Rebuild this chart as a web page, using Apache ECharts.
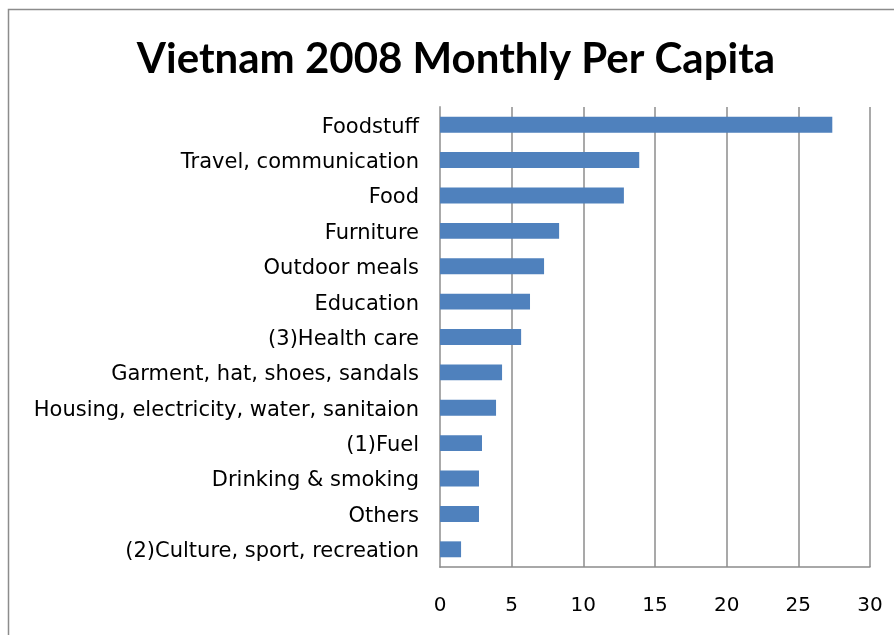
<!DOCTYPE html>
<html>
<head>
<meta charset="utf-8">
<script src="https://cdn.jsdelivr.net/npm/echarts@6/dist/echarts.min.js"></script>
<style>
  html, body { margin: 0; padding: 0; background: #fff; }
  #chart { width: 894px; height: 635px; }
</style>
</head>
<body>
<div id="chart"></div>
<script>
// Spending categories, listed top to bottom
const categories = [
  "Foodstuff",
  "Travel, communication",
  "Food",
  "Furniture",
  "Outdoor meals",
  "Education",
  "(3)Health care",
  "Garment, hat, shoes, sandals",
  "Housing, electricity, water, sanitaion",
  "(1)Fuel",
  "Drinking & smoking",
  "Others",
  "(2)Culture, sport, recreation"
];
const values = [27.37, 13.90, 12.83, 8.31, 7.26, 6.28, 5.66, 4.33, 3.91, 2.93, 2.72, 2.72, 1.47];
const xTicks = [0, 5, 10, 15, 20, 25, 30];

const chart = echarts.init(document.getElementById('chart'));
const labelFont = '"DejaVu Sans", sans-serif';

chart.setOption({
  animation: false,
  backgroundColor: '#fff',
  title: {
    text: 'Vietnam 2008 Monthly Per Capita',
    left: 451,
    top: 33,
    textAlign: 'center',
    textStyle: { fontFamily: 'Lato, "Open Sans", sans-serif', fontWeight: 'bold', fontSize: 42, color: '#000' }
  },
  graphic: [{
    type: 'rect',
    shape: { x: 8.5, y: 9.5, width: 900, height: 700 },
    style: { fill: 'none', stroke: '#8c8c8c', lineWidth: 1.5 },
    silent: true
  }],
  grid: { left: 440, right: 24, top: 107, bottom: 68 },
  xAxis: {
    type: 'value',
    min: xTicks[0],
    max: xTicks[xTicks.length - 1],
    interval: 5,
    axisLine: { show: true, lineStyle: { color: '#8c8c8c', width: 1.5 } },
    axisTick: { show: false },
    splitLine: { show: true, lineStyle: { color: '#8c8c8c', width: 1.5 } },
    axisLabel: { color: '#000', fontSize: 20, fontFamily: labelFont, margin: 29 }
  },
  yAxis: {
    type: 'category',
    inverse: true,
    data: categories,
    axisLine: { show: true, lineStyle: { color: '#aaaaaa', width: 2 } },
    axisTick: { show: false },
    axisLabel: {
      color: '#000', fontSize: 21, fontFamily: labelFont, margin: 21,
      verticalAlign: 'top', lineHeight: 21, padding: [-8, 0, 0, 0]
    }
  },
  series: [{
    type: 'bar',
    data: values,
    barCategoryGap: '55%',
    itemStyle: { color: '#4f81bd' }
  }]
});
</script>
</body>
</html>
